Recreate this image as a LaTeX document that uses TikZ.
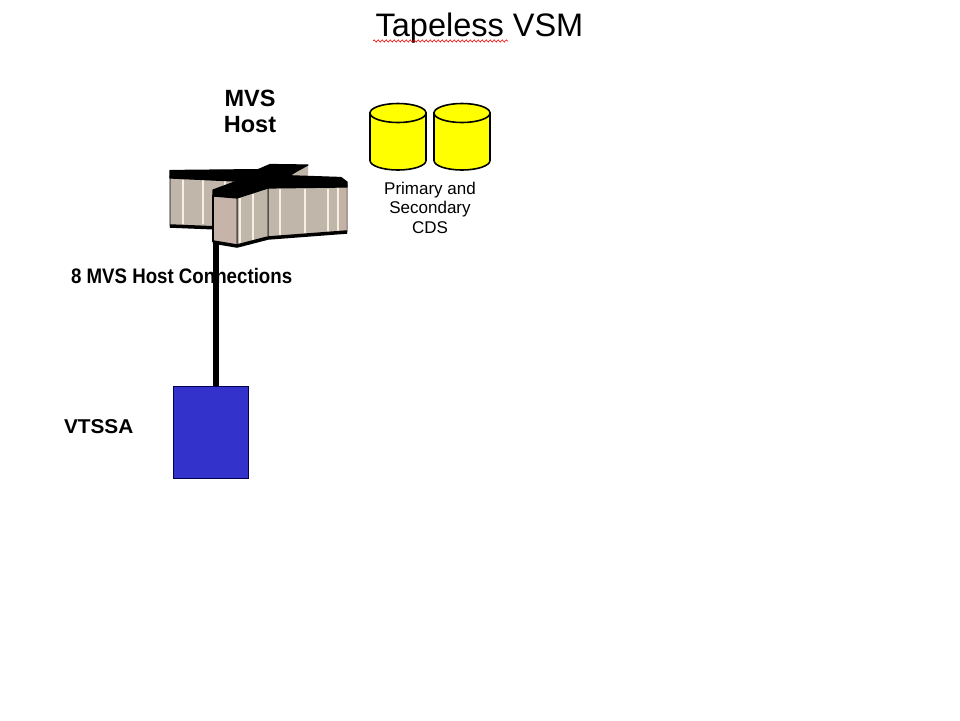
\documentclass[tikz,border=0pt]{standalone}
\usepackage{fontspec}
\setmainfont{Liberation Sans}
\usetikzlibrary{decorations.pathmorphing}
\definecolor{cabgrey}{RGB}{192,182,170}
\definecolor{cabfront}{RGB}{198,180,170}
\definecolor{cabend}{RGB}{196,178,166}
\definecolor{stripe}{RGB}{246,240,228}
\definecolor{vtblue}{RGB}{51,51,204}
\definecolor{cdsyellow}{RGB}{255,255,0}
\tikzset{
  lbl/.style={inner sep=0pt, outer sep=0pt, text=black},
  slab/.style={fill=black, draw=black, line width=1.2pt, line join=round},
  face/.style={fill=cabgrey, draw=black, line width=0.8pt, line join=round},
  stripeline/.style={draw=stripe, line width=2pt},
  baseband/.style={draw=black, line width=3.5pt},
  cyl/.style={fill=cdsyellow, draw=black, line width=1.6pt},
  conn/.style={draw=black, line width=5.5pt},
}
\begin{document}
\begin{tikzpicture}[x=1pt,y=1pt,yscale=-1]
\useasboundingbox[fill=white] (0,0) rectangle (960,720);

% title
\node[lbl, anchor=base, font=\fontsize{32.5}{38}\selectfont] (title) at (479.5,36.5) {Tapeless VSM};
\draw[red, line width=0.6pt, decorate, decoration={snake, amplitude=1.1pt, segment length=4pt}] (373,41) -- (508,41);

% MVS host label
\node[lbl, align=center, anchor=north, font=\fontsize{23.5}{26.5}\selectfont\bfseries] (hostlbl) at (250,90) {MVS\\Host};

% host machine: back-right arm
\path[face, draw=none] (262,173) -- (308,166) -- (308,179) -- (270,184) -- cycle;
\path[slab] (255,171) -- (270,164.5) -- (308,165) -- (297,171) -- (284,179) -- (262,181) -- cycle;
% left arm
\path[face] (170,176) -- (268,180) -- (268,230) -- (170,226) -- cycle;
\foreach \sx in {183,203,225} \draw[stripeline] (\sx,180) -- (\sx,224);
\draw[baseband] (170,226) -- (268,230);
\path[slab] (170,170.5) -- (268,169.5) -- (268,180) -- (245,181.5) -- (170,178) -- cycle;
% right arm
\path[face] (268,185) -- (347,185) -- (347,232) -- (268,238) -- cycle;
\fill[cabend] (338,187) -- (346.5,187) -- (346.5,232) -- (338,232.5) -- cycle;
\foreach \sx in {280,305,328} \draw[stripeline] (\sx,189) -- (\sx,235);
\draw[stripeline, line width=1.2pt] (338,188) -- (338,232);
\draw[baseband] (268,238) -- (347,232);
\path[slab] (258,177) -- (282,175.5) -- (341,177.5) -- (347,182) -- (347,187) -- (268,188) -- (258,186) -- cycle;
% front arm
\path[face] (237,197) -- (268,186) -- (268,238) -- (237,246) -- cycle;
\draw[stripeline] (253,194) -- (253,241);
\draw[stripeline, line width=1.2pt] (240,198) -- (240,245);
\path[face, fill=cabfront] (213,195) -- (237,197) -- (237,246) -- (213,242) -- cycle;
\draw[baseband] (213,242) -- (237,246) -- (268,238);
\draw[black, line width=2pt] (213,195) -- (213,242);
\path[slab] (213,190) -- (240,180) -- (268,180.5) -- (268,188) -- (237,198) -- (213,196) -- cycle;
\coordinate (hostbot) at (216,244);

% CDS cylinders
\foreach \cx/\nm in {398/cdsa,462/cdsb}{
  \path[cyl] (\cx-28,113) -- (\cx-28,160.5) arc (180:0:28 and 9.5) -- (\cx+28,113) -- cycle;
  \path[cyl] (\cx,113) ellipse (28 and 9.5);
  \coordinate (\nm) at (\cx,140);
}
\node[lbl, align=center, anchor=north, font=\fontsize{17}{19.5}\selectfont] (cdslbl) at (430,182) {Primary and\\Secondary\\CDS};

% connections label
\node[lbl, anchor=base west, font=\fontsize{21}{24}\selectfont\bfseries] (connlbl) at (71,283) {\scalebox{0.89}[1]{8 MVS Host Connections}};

% VTSSA
\node[lbl, anchor=base west, font=\fontsize{20}{24}\selectfont\bfseries] (vtlbl) at (64,433.3) {\scalebox{1.04}[1]{VTSSA}};
\node[fill=vtblue, draw=black!70!blue, line width=0.6pt, minimum width=75pt, minimum height=92pt, inner sep=0pt, anchor=north west] (vtssa) at (173,386) {};

% connector
\draw[conn] (hostbot) -- (vtssa.north -| hostbot);
\end{tikzpicture}
\end{document}
